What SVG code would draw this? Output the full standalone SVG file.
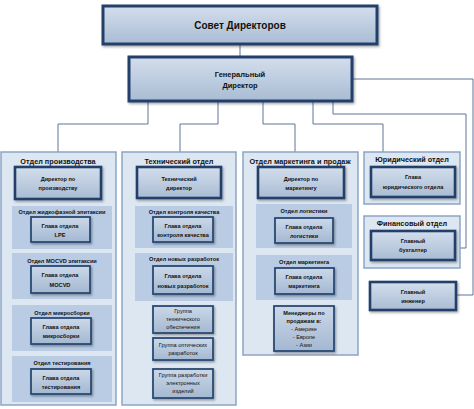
<svg xmlns="http://www.w3.org/2000/svg" width="474" height="409" viewBox="0 0 474 409">
<defs>
<linearGradient id="gTop" x1="0" y1="0" x2="0" y2="1">
<stop offset="0" stop-color="#d3deec"/><stop offset="1" stop-color="#a9bcd4"/>
</linearGradient>
<linearGradient id="gIn" x1="0" y1="0" x2="0" y2="1">
<stop offset="0" stop-color="#cbd8e8"/><stop offset="1" stop-color="#a4b8d2"/>
</linearGradient>
<filter id="sh" x="-10%" y="-10%" width="130%" height="140%">
<feDropShadow dx="1.2" dy="1.5" stdDeviation="1" flood-color="#000" flood-opacity="0.35"/>
</filter>
</defs>
<style>
text{font-family:"Liberation Sans",Arial,sans-serif;fill:#111;text-anchor:middle}
.top{fill:url(#gTop);stroke:#22406a;stroke-width:3;filter:url(#sh)}
.dir{fill:url(#gTop);stroke:#22406a;stroke-width:2.6;filter:url(#sh)}
.inn{fill:url(#gIn);stroke:#2a4a74;stroke-width:1.8;filter:url(#sh)}
.dept{fill:#dde7f2;stroke:#8ba5c6;stroke-width:1.5}
.sec{fill:#b9cce4}
.t1{font-size:10px;font-weight:bold}
.t2{font-size:7.5px;font-weight:bold}
.dt{font-size:7.3px;font-weight:bold}
.st{font-size:5.6px;font-weight:bold}
.it{font-size:5.6px;font-weight:bold}
.gt{font-size:5.6px}
#conn path{fill:none;stroke:#5f7594;stroke-width:1}
</style>
<g id="conn">
<path d="M240,44 V57"/>
<path d="M148,101 V124 H58 V152"/>
<path d="M218,101 V124 H180 V152"/>
<path d="M263,101 V124 H295 V152"/>
<path d="M313,101 V124 H383 V152"/>
<path d="M333,101 V114 H466 V248 H460"/>
<path d="M352,79 H473 V295 H456"/>
<path d="M10,183 V382 M10,183 H15 M10,229 H31 M10,280 H31 M10,331 H31 M10,382 H31"/>
<path d="M131,183 V384 M131,183 H137 M131,229 H153 M131,280 H153 M131,319 H153 M131,349 H153 M131,384 H153"/>
<path d="M252,183 V328 M252,183 H258 M252,230 H275 M252,281 H275 M252,328 H274"/>
</g>
<g id="sovet"><rect class="top" x="103" y="6" width="274" height="38"/><text class="t1" x="240" y="29">Совет Директоров</text></g>
<g id="gendir"><rect class="top" x="129" y="57" width="223" height="44"/><text class="t2" x="240" y="77">Генеральный</text><text class="t2" x="240" y="88">Директор</text></g>

<g id="dept1">
<rect class="dept" x="1" y="152" width="115" height="253"/>
<text class="dt" x="58" y="164">Отдел производства</text>
<g id="dir1"><rect class="dir" x="15" y="167" width="86" height="32"/><text class="it" x="58" y="181">Директор по</text><text class="it" x="58" y="190">производству</text></g>
<g id="lpe"><rect class="sec" x="12" y="206" width="100" height="43"/><text class="st" x="62" y="214">Отдел жидкофазной эпитаксии</text>
<rect class="inn" x="31" y="217" width="59" height="25"/><text class="it" x="60" y="228">Глава отдела</text><text class="it" x="60" y="237">LPE</text></g>
<g id="mocvd"><rect class="sec" x="12" y="253" width="100" height="46"/><text class="st" x="62" y="263">Отдел MOCVD эпитаксии</text>
<rect class="inn" x="31" y="266" width="59" height="27"/><text class="it" x="60" y="277">Глава отдела</text><text class="it" x="60" y="287">MOCVD</text></g>
<g id="micro"><rect class="sec" x="12" y="305" width="100" height="46"/><text class="st" x="62" y="315">Отдел микросборки</text>
<rect class="inn" x="31" y="318" width="60" height="26"/><text class="it" x="61" y="329">Глава отдела</text><text class="it" x="61" y="338">микросборки</text></g>
<g id="test"><rect class="sec" x="12" y="356" width="100" height="46"/><text class="st" x="62" y="365">Отдел тестирования</text>
<rect class="inn" x="31" y="369" width="60" height="25"/><text class="it" x="61" y="380">Глава отдела</text><text class="it" x="61" y="389">тестирования</text></g>
</g>

<g id="dept2">
<rect class="dept" x="122" y="152" width="114" height="253"/>
<text class="dt" x="179" y="164">Технический отдел</text>
<g id="dir2"><rect class="dir" x="137" y="167" width="84" height="31"/><text class="it" x="179" y="181">Технический</text><text class="it" x="179" y="190">директор</text></g>
<g id="qc"><rect class="sec" x="135" y="206" width="98" height="42"/><text class="st" x="184" y="214">Отдел контроля качества</text>
<rect class="inn" x="153" y="217" width="60" height="25"/><text class="it" x="183" y="228">Глава отдела</text><text class="it" x="183" y="237">контроля качества</text></g>
<g id="newdev"><rect class="sec" x="135" y="253" width="98" height="48"/><text class="st" x="184" y="261">Отдел новых разработок</text>
<rect class="inn" x="153" y="266" width="60" height="28"/><text class="it" x="183" y="278">Глава отдела</text><text class="it" x="183" y="288">новых разработок</text></g>
<g id="grp1"><rect class="inn" x="153" y="306" width="60" height="27"/><text class="gt" x="183" y="313">Группа</text><text class="gt" x="183" y="321">технического</text><text class="gt" x="183" y="329">обеспечения</text></g>
<g id="grp2"><rect class="inn" x="153" y="338" width="60" height="22"/><text class="gt" x="183" y="347">Группа оптических</text><text class="gt" x="183" y="355">разработок</text></g>
<g id="grp3"><rect class="inn" x="153" y="369" width="60" height="29"/><text class="gt" x="183" y="377">Группа разработки</text><text class="gt" x="183" y="385">электронных</text><text class="gt" x="183" y="393">изделий</text></g>
</g>

<g id="dept3">
<rect class="dept" x="243" y="152" width="115" height="203"/>
<text class="dt" x="300" y="164">Отдел маркетинга и продаж</text>
<g id="dir3"><rect class="dir" x="258" y="167" width="86" height="31"/><text class="it" x="301" y="181">Директор по</text><text class="it" x="301" y="190">маркетингу</text></g>
<g id="logist"><rect class="sec" x="256" y="204" width="96" height="44"/><text class="st" x="304" y="213">Отдел логистики</text>
<rect class="inn" x="275" y="218" width="58" height="25"/><text class="it" x="304" y="229">Глава отдела</text><text class="it" x="304" y="238">логистики</text></g>
<g id="mark"><rect class="sec" x="256" y="255" width="96" height="45"/><text class="st" x="304" y="264">Отдел маркетинга</text>
<rect class="inn" x="275" y="268" width="59" height="26"/><text class="it" x="304" y="279">Глава отдела</text><text class="it" x="304" y="288">маркетинга</text></g>
<g id="sales"><rect class="inn" x="274" y="306" width="60" height="45"/><text class="it" x="304" y="315">Менеджеры по</text><text class="it" x="304" y="323">продажам в:</text>
<text class="gt" x="304" y="331">- Америке</text><text class="gt" x="304" y="339">- Европе</text><text class="gt" x="304" y="347">- Азии</text></g>
</g>

<g id="legal">
<rect class="dept" x="364" y="152" width="96" height="52"/>
<text class="dt" x="412" y="162">Юридический отдел</text>
<rect class="dir" x="371" y="167" width="84" height="30"/><text class="it" x="413" y="179">Глава</text><text class="it" x="413" y="189">юридического отдела</text>
</g>
<g id="finance">
<rect class="dept" x="364" y="216" width="96" height="52"/>
<text class="dt" x="412" y="226">Финансовый отдел</text>
<rect class="dir" x="371" y="231" width="84" height="29"/><text class="it" x="413" y="243">Главный</text><text class="it" x="413" y="252">бухгалтер</text>
</g>
<g id="engineer">
<rect class="dir" x="370" y="282" width="86" height="28"/><text class="it" x="413" y="294">Главный</text><text class="it" x="413" y="303">инженер</text>
</g>
</svg>
